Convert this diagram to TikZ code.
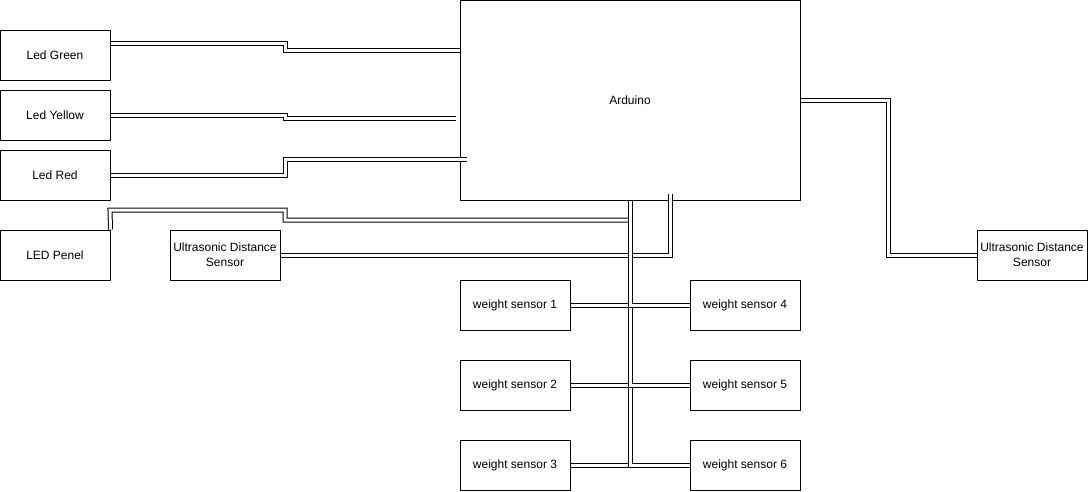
\documentclass[tikz,border=0pt]{standalone}
\usepackage{fontspec}
\setmainfont{Liberation Sans}
\usepackage{tikz}

\begin{document}
\begin{tikzpicture}
		[x=1pt, y=-1pt, node distance={60pt}, line width=1pt,
		 font=\fontsize{12pt}{15pt}\selectfont,
		 main/.style = {draw, rectangle, minimum width=110pt, minimum height=50pt, inner sep=0pt, align=center},
		 wire/.style = {double, double distance=3pt, line width=1pt}]
        \useasboundingbox (0,0) rectangle (1088,491);

        \node[main] (green) at (55,55) {Led Green};
        \node[main] (yellow) [below of = green] {Led Yellow};
        \node[main] (red) [below of = yellow] {Led Red};
        \node[main] (penel) [below of = red, node distance=80pt] {LED Penel};
        \node[main] (usl) [right of = penel, node distance=170pt] {Ultrasonic Distance\\Sensor};
        \node[main, minimum width=340pt, minimum height=200pt] (ard) at (630,100) {Arduino};
        \node[main] (usr) at (1032,255) {Ultrasonic Distance\\Sensor};

        \node[main] (w1) at (515,305) {weight sensor 1};
        \node[main] (w2) [below of = w1, node distance=80pt] {weight sensor 2};
        \node[main] (w3) [below of = w2, node distance=80pt] {weight sensor 3};
        \node[main] (w4) [right of = w1, node distance=230pt] {weight sensor 4};
        \node[main] (w5) [right of = w2, node distance=230pt] {weight sensor 5};
        \node[main] (w6) [right of = w3, node distance=230pt] {weight sensor 6};

        % loose ends inside the Arduino
        \coordinate (yend) at (456,118);
        \coordinate (rend) at (467,159);
        \coordinate (uend) at (670,194);
        \coordinate (pend) at (630,220);

        \draw[wire] ([yshift=12pt]green.east) -- (285,43) -- (285,50) -- ([yshift=50pt]ard.west);
        \draw[wire] (yellow.east) -- (285,115) -- (285,118) -- (yend);
        \draw[wire] (red.east) -- (285,175) -- (285,159) -- (rend);
        \draw[wire] (penel.north east) -- (110,210) -- (285,210) -- (285,220) -- (pend);
        \draw[wire] (usl.east) -- (670,255) -- (uend);
        \draw[wire] (ard.east) -- (888,100) -- (888,255) -- (usr.west);

        \draw[wire] (w3.east) -| (ard.south);
        \draw[wire] (w6.west) -| (ard.south);
        \draw[wire] (w2.east) -| (ard.south);
        \draw[wire] (w5.west) -| (ard.south);
        \draw[wire] (w1.east) -| (ard.south);
        \draw[wire] (w4.west) -| (ard.south);
	\end{tikzpicture}
\end{document}
